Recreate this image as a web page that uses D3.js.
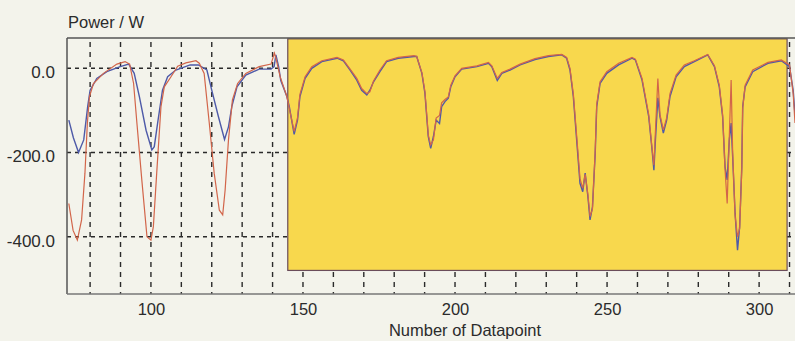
<!DOCTYPE html>
<html>
<head>
<meta charset="utf-8">
<script src="https://cdn.jsdelivr.net/npm/d3@7"></script>
<style>
  html, body { margin: 0; padding: 0; background: #f3f3eb; }
  svg { display: block; font-family: "Liberation Sans", Arial, sans-serif; }
  .tick text { fill: #2b2b2b; }
</style>
</head>
<body>
<svg width="795" height="341"></svg>
<script>
// [datapoint, power W]
const blueSeries = [
  [73.0,-123],[74.5,-165],[76.2,-200],[77.9,-170],[79.2,-91],[80.0,-52],[82.2,-24],[85.5,-8],
  [89.9,4],[92.7,10],[94.5,-12],[96.2,-67],[98.4,-147],[100.3,-194],[101.1,-186],[102.2,-130],
  [103.8,-52],[105.5,-20],[108.2,-4],[112.9,8],[115.6,8],[118.4,-4],[120.0,-52],[122.2,-115],
  [124.2,-169],[125.5,-139],[126.6,-91],[128.3,-44],[131.2,-16],[135.6,-2],[139.5,-2],[140.5,4],
  [141.1,32],[142.0,4],[142.7,-29],[144.7,-67],[145.5,-91],[147.1,-157],[148.2,-123],[149.0,-67],
  [150.7,-24],[152.9,0],[156.2,16],[161.2,24],[163.3,18],[165.5,-4],[167.7,-28],[169.3,-52],
  [171.0,-63],[172.0,-52],[173.2,-32],[175.3,-8],[177.5,16],[181.3,24],[186.5,28],[187.4,28],
  [189.1,-12],[190.1,-59],[190.7,-115],[191.2,-162],[192.0,-190],[192.9,-162],[193.8,-123],
  [194.9,-131],[195.6,-91],[196.7,-79],[197.8,-71],[198.6,-44],[200.0,-20],[202.2,-2],[207.2,4],
  [211.0,12],[212.1,4],[213.9,-29],[215.4,-12],[218.1,-4],[221.4,8],[226.3,21],[230.7,28],
  [235.1,32],[236.7,24],[237.8,-4],[238.9,-67],[240.0,-170],[241.1,-273],[242.0,-293],[242.8,-249],
  [243.7,-305],[244.4,-360],[245.2,-329],[246.1,-202],[246.6,-91],[247.7,-36],[249.9,-12],
  [253.8,8],[258.2,24],[259.3,20],[261.5,-28],[263.7,-115],[264.8,-194],[265.4,-242],[265.9,-170],
  [266.7,-70],[267.4,-115],[268.5,-154],[269.6,-123],[270.7,-67],[272.7,-20],[275.4,4],[278.7,16],
  [283.1,32],[285.3,4],[286.9,-44],[288.0,-115],[288.8,-234],[289.5,-265],[290.2,-170],[290.8,-130],
  [291.3,-210],[292.1,-344],[292.9,-432],[293.6,-376],[294.3,-234],[294.6,-91],[295.4,-44],
  [297.9,-8],[302.9,12],[307.3,18],[310.0,4],[311.2,-52],[311.8,-110]
];

const redSeries = [
  [73.0,-321],[74.4,-385],[75.8,-408],[77.2,-360],[78.3,-249],[79.1,-130],[79.8,-67],[81.1,-36],
  [84.4,-12],[88.8,10],[91.5,16],[93.0,10],[94.3,-36],[95.4,-131],[97.0,-265],[98.7,-400],
  [100.0,-408],[100.8,-376],[101.9,-249],[103.3,-91],[104.4,-44],[106.6,-20],[108.8,5],[111.5,13],
  [114.8,18],[115.9,12],[117.5,-12],[119.2,-131],[120.8,-249],[122.5,-337],[123.6,-348],[124.4,-289],
  [125.5,-170],[126.8,-75],[128.5,-36],[131.2,-12],[135.6,4],[139.5,10],[140.6,36],[141.1,24],
  [142.5,-20],[144.7,-67],[145.5,-95],[147.1,-150],[148.2,-118],[149.0,-62],[150.7,-20],[152.9,4],
  [156.2,18],[161.2,26],[163.3,20],[165.5,-2],[167.7,-24],[169.3,-48],[171.0,-60],[172.0,-56],
  [173.2,-30],[175.3,-4],[177.5,18],[181.3,26],[186.5,30],[187.4,28],[189.1,-10],[190.1,-55],
  [190.7,-110],[191.2,-158],[192.0,-182],[192.9,-170],[193.8,-118],[194.9,-112],[195.6,-82],
  [196.7,-74],[197.8,-68],[198.6,-40],[200.0,-18],[202.2,0],[207.2,6],[211.0,14],[212.1,6],
  [213.9,-24],[215.4,-10],[218.1,-2],[221.4,10],[226.3,23],[230.7,30],[235.1,33],[236.7,26],
  [237.8,0],[238.9,-60],[240.0,-160],[241.1,-262],[242.0,-285],[242.8,-252],[243.7,-300],
  [244.4,-352],[245.2,-334],[246.1,-195],[246.6,-85],[247.7,-32],[249.9,-8],[253.8,12],[258.2,26],
  [259.3,22],[261.5,-24],[263.7,-110],[264.8,-190],[265.4,-230],[265.9,-150],[266.7,-24],
  [267.4,-110],[268.5,-146],[269.6,-118],[270.7,-60],[272.7,-16],[275.4,8],[278.7,18],[283.1,33],
  [285.3,6],[286.9,-40],[288.0,-110],[288.8,-240],[289.5,-321],[290.2,-160],[290.8,-28],
  [291.3,-200],[292.1,-350],[292.9,-400],[293.6,-380],[294.3,-240],[294.6,-95],[295.4,-40],
  [297.9,-4],[302.9,14],[307.3,20],[310.0,8],[311.2,-60],[311.8,-130]
];

const yTicks = [0, -200, -400];
const xTicks = [100, 150, 200, 250, 300];
const xGrid = [80, 90, 100, 110, 120, 130, 140, 150, 160, 170, 180, 190, 200,
               210, 220, 230, 240, 250, 260, 270, 280, 290, 300, 310];
const highlightRange = [145, 309.2];
const highlightPower = [70, -480];

const width = 795, height = 341;
const plotLeft = 67, plotTop = 38, plotBottom = 294;

const svg = d3.select('svg');

const x = d3.scaleLinear().domain([72.4, 311.8]).range([plotLeft, width]);
const y = d3.scaleLinear().domain([72, -536]).range([plotTop, plotBottom]);

// grid
svg.append('g').selectAll('line')
    .data(xGrid)
    .enter().append('line')
    .attr('x1', d => x(d)).attr('x2', d => x(d))
    .attr('y1', plotTop + 4).attr('y2', plotBottom)
    .attr('stroke', '#2a2a2a')
    .attr('stroke-width', 1.4)
    .attr('stroke-dasharray', '5,5')

svg.append('g').selectAll('line')
    .data(yTicks)
    .enter().append('line')
    .attr('x1', plotLeft).attr('x2', width)
    .attr('y1', d => y(d)).attr('y2', d => y(d))
    .attr('stroke', '#2a2a2a')
    .attr('stroke-width', 1.4)
    .attr('stroke-dasharray', '4,4')

// highlighted region
svg.append('rect')
    .attr('x', x(highlightRange[0]))
    .attr('y', y(highlightPower[0]))
    .attr('width', x(highlightRange[1]) - x(highlightRange[0]))
    .attr('height', y(highlightPower[1]) - y(highlightPower[0]))
    .attr('fill', '#f8d84d')
    .attr('stroke', '#6a4c5a')
    .attr('stroke-width', 1.2)

// frame
svg.append('line').attr('x1', plotLeft).attr('x2', width).attr('y1', plotTop).attr('y2', plotTop)
    .attr('stroke', '#555').attr('stroke-width', 1.5)
svg.append('line').attr('x1', plotLeft).attr('x2', plotLeft).attr('y1', plotTop).attr('y2', plotBottom)
    .attr('stroke', '#555').attr('stroke-width', 1.5)
svg.append('line').attr('x1', plotLeft).attr('x2', width).attr('y1', plotBottom).attr('y2', plotBottom)
    .attr('stroke', '#777').attr('stroke-width', 1.5)

// series
const line = d3.line()
    .x(d => x(d[0]))
    .y(d => y(d[1]))

svg.append('path')
    .datum(blueSeries)
    .attr('d', line)
    .attr('fill', 'none')
    .attr('stroke', '#4e5aa8')
    .attr('stroke-width', 1.4)

svg.append('path')
    .datum(redSeries)
    .attr('d', line)
    .attr('fill', 'none')
    .attr('stroke', '#d2654a')
    .attr('stroke-width', 1.2)

// axes
const xAxis = d3.axisBottom(x)
    .tickValues(xTicks)
    .tickSize(0)
    .tickPadding(9)
    .tickFormat(d => String(d))

svg.append('g')
    .attr('transform', 'translate(0,' + plotBottom + ')')
    .call(xAxis)
    .call(g => g.select('.domain').remove())
    .selectAll('text')
    .style('font-size', '16.5px')
    .style('font-family', '"Liberation Sans", Arial, sans-serif')

const yAxis = d3.axisLeft(y)
    .tickValues(yTicks)
    .tickSize(0)
    .tickPadding(12)
    .tickFormat(d => d.toFixed(1))

svg.append('g')
    .attr('transform', 'translate(' + plotLeft + ',0)')
    .call(yAxis)
    .call(g => g.select('.domain').remove())
    .selectAll('text')
    .attr('dy', '0.85em')
    .attr('y', -5)
    .style('font-size', '17px')
    .style('font-family', '"Liberation Sans", Arial, sans-serif')

svg.append('text')
    .attr('x', 68)
    .attr('y', 28)
    .attr('fill', '#2b2b2b')
    .style('font-size', '16.5px')
    .text('Power / W')

svg.append('text')
    .attr('x', 465)
    .attr('y', 336)
    .attr('text-anchor', 'middle')
    .attr('fill', '#2b2b2b')
    .style('font-size', '16.5px')
    .text('Number of Datapoint')
</script>
</body>
</html>
